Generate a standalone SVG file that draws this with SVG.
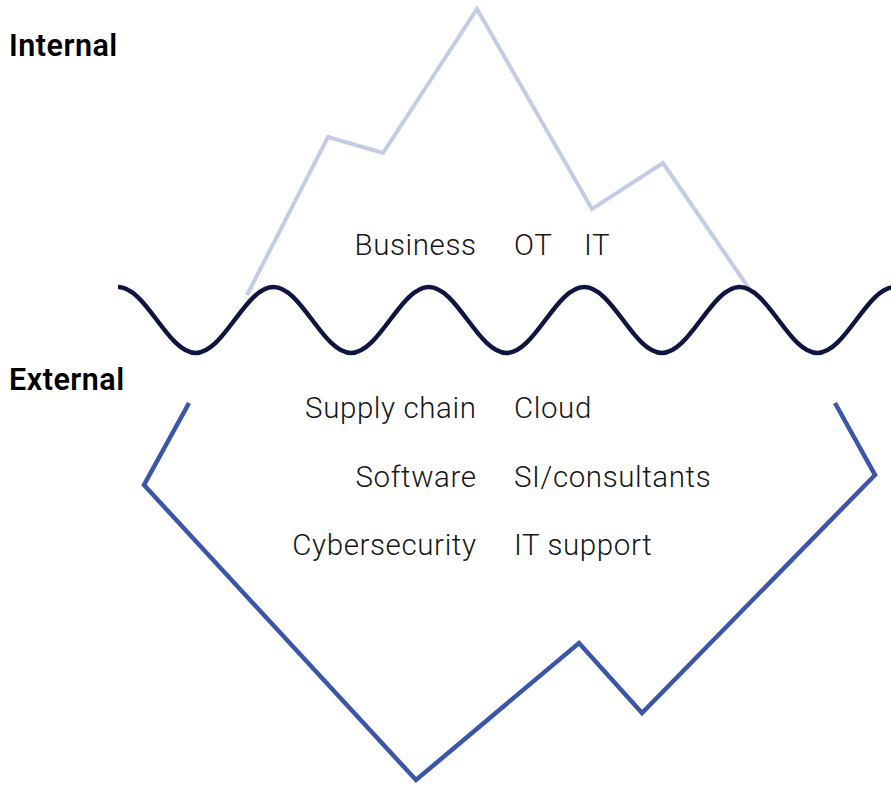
<svg xmlns="http://www.w3.org/2000/svg" width="891" height="785" viewBox="0 0 891 785">
<style>
.lbl{font-family:Roboto,"Liberation Sans",sans-serif;font-weight:300;font-size:29.5px;letter-spacing:0.6px;fill:#161616}
.r{text-anchor:end}
.hd{font-family:Roboto,"Liberation Sans",sans-serif;font-weight:600;font-size:30.5px;letter-spacing:0.5px;fill:#000}
.ln{fill:none;stroke-linejoin:miter;stroke-linecap:butt}
</style>
<rect width="891" height="785" fill="#fff"/>
<g id="above">
<polyline class="ln" stroke="#c4cbe5" stroke-width="4" points="247,295 328,137 383,153 477,9 592,209 663,163 750,290"/>
</g>
<g id="below">
<polyline class="ln" stroke="#3b56a8" stroke-width="4.5" points="189,403 144,485 416,780 579,643 642,713 875,475 835,403"/>
</g>
<g id="waterline">
<path fill="none" stroke="#0f1440" stroke-width="4.5" d="M118,287 C146.2,287 167.5,353 195.7,353 S245.2,287 273.4,287 S322.9,353 351.1,353 S400.6,287 428.8,287 S478.3,353 506.5,353 S556,287 584.2,287 S633.7,353 661.9,353 S711.4,287 739.6,287 S789.1,353 817.3,353 S866.8,287 895,287"/>
</g>
<g id="internal"><text class="hd" x="9" y="56">Internal</text></g>
<g id="external"><text class="hd" x="9" y="390">External</text></g>
<g id="labels">
<text class="lbl r" x="476.6" y="255">Business</text>
<text class="lbl" x="514" y="255">OT</text>
<text class="lbl" x="584" y="255">IT</text>
<text class="lbl r" x="476.6" y="418">Supply chain</text>
<text class="lbl" x="514" y="418">Cloud</text>
<text class="lbl r" x="476.6" y="487">Software</text>
<text class="lbl" x="514" y="487">SI/consultants</text>
<text class="lbl r" x="476.6" y="555">Cybersecurity</text>
<text class="lbl" x="514" y="555">IT support</text>
</g>
</svg>
